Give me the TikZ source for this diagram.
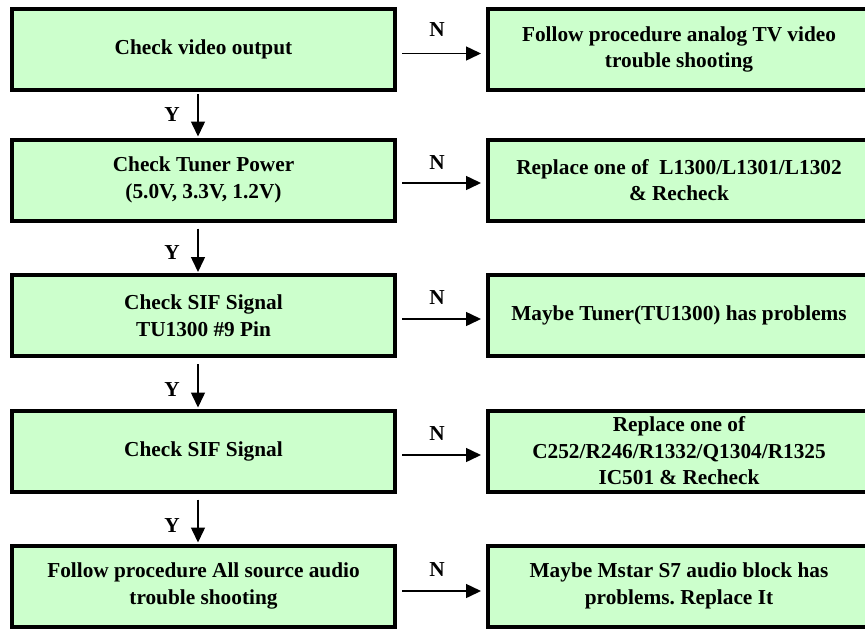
\documentclass[tikz,border=0pt]{standalone}
\usepackage{fontspec}
\setmainfont{Liberation Serif}
\usetikzlibrary{arrows.meta,calc}
\definecolor{boxgreen}{HTML}{CCFFCC}
\frenchspacing
\tikzset{
  flowbox/.style={draw=black, line width=4pt, fill=boxgreen, minimum height=81pt,
    align=center, inner sep=0pt, font=\fontsize{21.3pt}{26.5pt}\selectfont\bfseries},
  leftbox/.style={flowbox, minimum width=383pt},
  rightbox/.style={flowbox, minimum width=382pt},
  arr/.style={line width=1.5pt, -{Triangle[length=15pt,width=14pt]}},
  lbl/.style={font=\fontsize{21.3pt}{24pt}\selectfont\bfseries, inner sep=0pt}
}
\begin{document}
\begin{tikzpicture}[x=1pt,y=-1pt]
\useasboundingbox (0,0) rectangle (865,630);
\clip (0,0) rectangle (865,630);
\fill[white] (0,0) rectangle (865,630);

\node[leftbox] (l1) at (203.5,49.5) {Check video output};
\node[leftbox] (l2) at (203.5,180) {Check Tuner Power\\(5.0V, 3.3V, 1.2V)};
\node[leftbox] (l3) at (203.5,315.5) {Check SIF Signal\\TU1300 \#9 Pin};
\node[leftbox] (l4) at (203.5,451) {Check SIF Signal};
\node[leftbox] (l5) at (203.5,586) {Follow procedure All source audio\\trouble shooting};

\node[rightbox] (r1) at (679,49.5) {Follow procedure analog TV video\\trouble shooting};
\node[rightbox] (r2) at (679,180) {Replace one of\ \ L1300/L1301/L1302\\\& Recheck};
\node[rightbox] (r3) at (679,315.5) {Maybe Tuner(TU1300) has problems};
\node[rightbox] (r4) at (679,451) {Replace one of\\C252/R246/R1332/Q1304/R1325\\IC501 \& Recheck};
\node[rightbox] (r5) at (679,586) {Maybe Mstar S7 audio block has\\problems. Replace It};

\coordinate (vx) at (198,0);

% Y arrows
\draw[arr, shorten <=2pt, shorten >=1pt] (l1.south -| vx) -- (l2.north -| vx);
\draw[arr, shorten <=6pt, shorten >=1pt] (l2.south -| vx) -- (l3.north -| vx);
\draw[arr, shorten <=6pt, shorten >=1pt] (l3.south -| vx) -- (l4.north -| vx);
\draw[arr, shorten <=6pt, shorten >=1pt] (l4.south -| vx) -- (l5.north -| vx);

\node[lbl] (y1) at (172,115) {Y};
\node[lbl] (y2) at (172,253) {Y};
\node[lbl] (y3) at (172,390) {Y};
\node[lbl] (y4) at (172,526) {Y};

% N arrows
\draw[arr, shorten <=5pt, shorten >=5pt] ([yshift=-4pt]l1.east) -- ([yshift=-4pt]r1.west);
\draw[arr, shorten <=5pt, shorten >=5pt] ([yshift=-3pt]l2.east) -- ([yshift=-3pt]r2.west);
\draw[arr, shorten <=5pt, shorten >=5pt] ([yshift=-3.5pt]l3.east) -- ([yshift=-3.5pt]r3.west);
\draw[arr, shorten <=5pt, shorten >=5pt] ([yshift=-4pt]l4.east) -- ([yshift=-4pt]r4.west);
\draw[arr, shorten <=5pt, shorten >=5pt] ([yshift=-5pt]l5.east) -- ([yshift=-5pt]r5.west);

\node[lbl] (n1) at (437,30) {N};
\node[lbl] (n2) at (437,163) {N};
\node[lbl] (n3) at (437,298) {N};
\node[lbl] (n4) at (437,434) {N};
\node[lbl] (n5) at (437,570) {N};
\end{tikzpicture}
\end{document}
